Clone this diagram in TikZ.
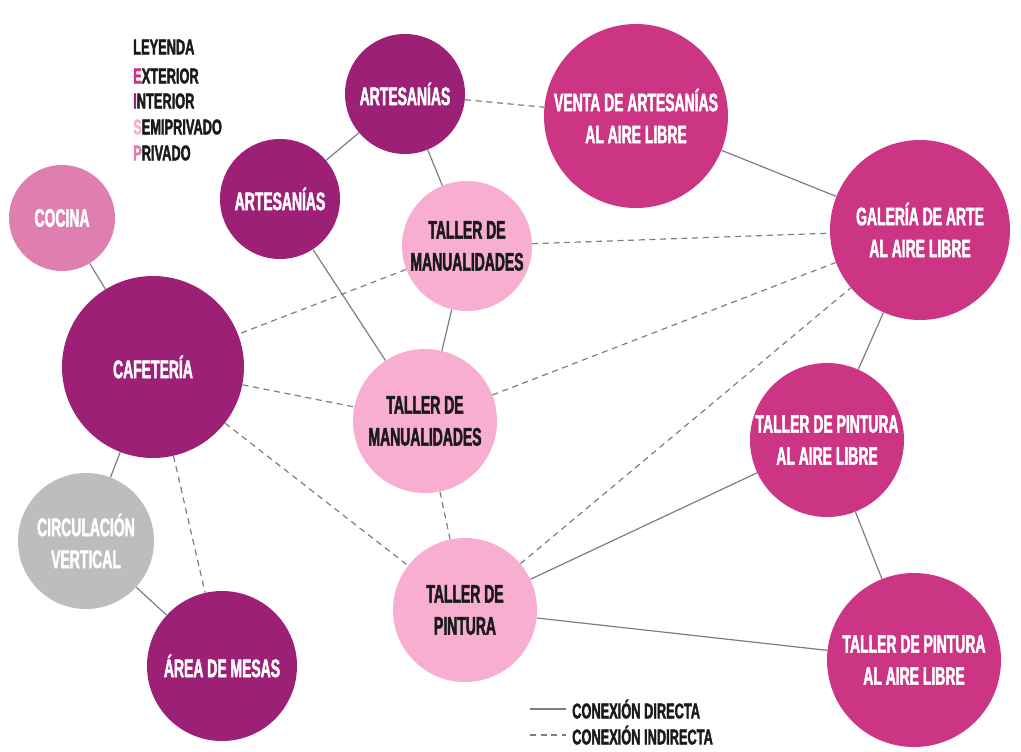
\documentclass[tikz,border=0pt]{standalone}
\usepackage{fontspec}
\setmainfont{Liberation Sans}[FakeStretch=0.55,FakeBold=1.8]
\newfontfamily\legf{Liberation Sans}[FakeStretch=0.6,FakeBold=1.8]
\definecolor{dkp}{HTML}{9B2076}
\definecolor{mag}{HTML}{CB3584}
\definecolor{lpk}{HTML}{F7AED0}
\definecolor{coc}{HTML}{DE7FAF}
\definecolor{gry}{HTML}{BDBDBD}
\definecolor{linegray}{HTML}{7E7E7E}
\definecolor{txtdark}{HTML}{1A1A1A}
\begin{document}
\begin{tikzpicture}[x=0.75pt,y=-0.75pt,
  bub/.style={circle, fill=#1, inner sep=0pt, align=center, text=white,
    font=\bfseries\fontsize{19}{24}\selectfont},
  rad/.style={minimum size=#1*1.5pt},
  dk/.style={text=txtdark},
  con/.style={draw=linegray, line width=0.9pt},
  ind/.style={con, dash pattern=on 4.5pt off 3.5pt},
  legtxt/.style={font=\legf\bfseries\fontsize{16}{19.5}\selectfont, text=txtdark, inner sep=0pt},
]
\useasboundingbox (0,0) rectangle (1021,751);
\fill[white] (0,0) rectangle (1021,751);

% nodes
\node[bub=dkp, rad=60] (a1) at (405,94) {ARTESANÍAS};
\node[bub=dkp, rad=60] (a2) at (280,199) {ARTESANÍAS};
\node[bub=mag, rad=92] (venta) at (636,116) {VENTA DE ARTESANÍAS\\AL AIRE LIBRE};
\node[bub=mag, rad=90] (gal) at (920,230) {GALERÍA DE ARTE\\AL AIRE LIBRE};
\node[bub=coc, rad=53] (coc) at (62,218) {COCINA};
\node[bub=lpk, rad=65, dk] (m1) at (467,246) {TALLER DE\\MANUALIDADES};
\node[bub=dkp, rad=91] (caf) at (153,367) {CAFETERÍA};
\node[bub=lpk, rad=72, dk] (m2) at (425,421) {TALLER DE\\MANUALIDADES};
\node[bub=mag, rad=77] (tpa1) at (827,440) {TALLER DE PINTURA\\AL AIRE LIBRE};
\node[bub=gry, rad=68] (circ) at (86,541) {CIRCULACIÓN\\VERTICAL};
\node[bub=lpk, rad=72, dk] (tp) at (465,610) {TALLER DE\\PINTURA};
\node[bub=dkp, rad=75] (mesas) at (222,666) {ÁREA DE MESAS};
\node[bub=mag, rad=87] (tpa2) at (914,660) {TALLER DE PINTURA\\AL AIRE LIBRE};

% direct connections
\draw[con] (a1) -- (a2);
\draw[con] (a1) -- (m1);
\draw[con] (a2) -- (m2);
\draw[con] (m1) -- (m2);
\draw[con] (venta) -- (gal);
\draw[con] (gal) -- (tpa1);
\draw[con] (tpa1) -- (tpa2);
\draw[con] (tp) -- (tpa1);
\draw[con] (tp) -- (tpa2);
\draw[con] (coc) -- (caf);
\draw[con] (caf) -- (circ);
\draw[con] (circ) -- (mesas);

% indirect connections
\draw[ind] (a1) -- (venta);
\draw[ind] (m1) -- (gal);
\draw[ind] (m1) -- (caf);
\draw[ind] (caf) -- (m2);
\draw[ind] (m2) -- (gal);
\draw[ind] (tp) -- (gal);
\draw[ind] (m2) -- (tp);
\draw[ind] (caf) -- (tp);
\draw[ind] (caf) -- (mesas);

% legend
\node[legtxt, anchor=west] (leg) at (133,47) {LEYENDA};
\node[legtxt, anchor=west] (lext) at (133,76) {\textcolor{mag}{E}XTERIOR};
\node[legtxt, anchor=west] (lint) at (133,101) {\textcolor{dkp}{I}NTERIOR};
\node[legtxt, anchor=west] (lsem) at (133,127) {\textcolor{lpk}{S}EMIPRIVADO};
\node[legtxt, anchor=west] (lpri) at (133,153) {\textcolor{coc}{P}RIVADO};

\coordinate (l1a) at (530,709);
\coordinate (l1b) at (566,709);
\coordinate (l2a) at (530,735);
\coordinate (l2b) at (566,735);
\draw[con] (l1a) -- (l1b);
\draw[ind] (l2a) -- (l2b);
\node[legtxt, anchor=west] (ld) at (572,709) {CONEXIÓN DIRECTA};
\node[legtxt, anchor=west] (li) at (572,735) {CONEXIÓN INDIRECTA};
\end{tikzpicture}
\end{document}
